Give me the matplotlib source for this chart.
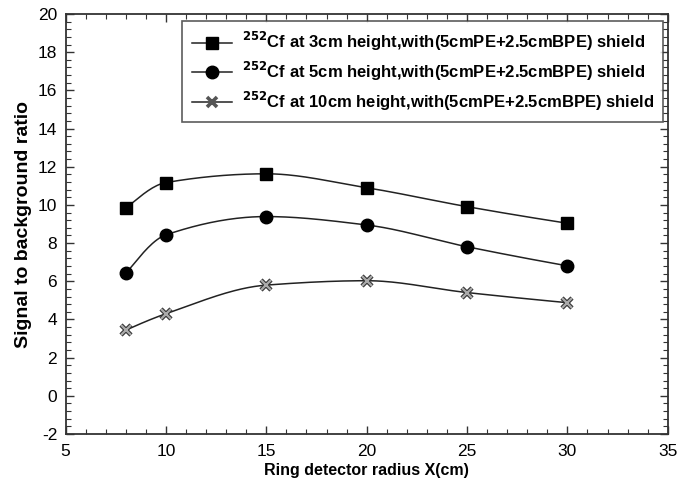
import numpy as np
import matplotlib
matplotlib.use('Agg')
import matplotlib.pyplot as plt
from matplotlib.ticker import MultipleLocator

plt.rcParams['font.family'] = ['Liberation Sans', 'DejaVu Sans']
plt.rcParams['axes.unicode_minus'] = False

# data
radius = [8, 10, 15, 20, 25, 30]
sbr_3cm = [9.83, 11.17, 11.63, 10.90, 9.91, 9.04]
sbr_5cm = [6.41, 8.43, 9.39, 8.95, 7.81, 6.81]
sbr_10cm = [3.44, 4.30, 5.80, 6.03, 5.41, 4.88]
labels = [r'$^{\mathbf{252}}$Cf at 3cm height,with(5cmPE+2.5cmBPE) shield',
          r'$^{\mathbf{252}}$Cf at 5cm height,with(5cmPE+2.5cmBPE) shield',
          r'$^{\mathbf{252}}$Cf at 10cm height,with(5cmPE+2.5cmBPE) shield']


def smooth_line(x, y, n=200):
    # monotone cubic (Fritsch-Carlson), only used to draw the smooth line
    x = np.asarray(x, float)
    y = np.asarray(y, float)
    h = np.diff(x)
    d = np.diff(y) / h
    k = len(x)
    m = np.zeros(k)
    for i in range(1, k - 1):
        if d[i - 1] * d[i] > 0:
            w1 = 2 * h[i] + h[i - 1]
            w2 = h[i] + 2 * h[i - 1]
            m[i] = (w1 + w2) / (w1 / d[i - 1] + w2 / d[i])
    m[0] = ((2 * h[0] + h[1]) * d[0] - h[0] * d[1]) / (h[0] + h[1])
    if np.sign(m[0]) != np.sign(d[0]):
        m[0] = 0
    elif np.sign(d[0]) != np.sign(d[1]) and abs(m[0]) > abs(3 * d[0]):
        m[0] = 3 * d[0]
    m[-1] = ((2 * h[-1] + h[-2]) * d[-1] - h[-1] * d[-2]) / (h[-1] + h[-2])
    if np.sign(m[-1]) != np.sign(d[-1]):
        m[-1] = 0
    xs = np.linspace(x[0], x[-1], n)
    idx = np.clip(np.searchsorted(x, xs) - 1, 0, k - 2)
    hh = h[idx]
    t = (xs - x[idx]) / hh
    h00 = 2 * t**3 - 3 * t**2 + 1
    h10 = t**3 - 2 * t**2 + t
    h01 = -2 * t**3 + 3 * t**2
    h11 = t**3 - t**2
    ys = h00 * y[idx] + h10 * hh * m[idx] + h01 * y[idx + 1] + h11 * hh * m[idx + 1]
    return xs, ys


fig = plt.figure(figsize=(6.92, 4.83), dpi=100)
ax = fig.add_axes([0.0947, 0.1014, 0.8703, 0.8696])

line_col = '#222222'
for ys in (sbr_3cm, sbr_5cm, sbr_10cm):
    sx, sy = smooth_line(radius, ys)
    ax.plot(sx, sy, color=line_col, lw=1.1, zorder=2)

ax.plot(radius, sbr_3cm, ls='none', marker='s', ms=8.5, color='black', zorder=3)
ax.plot(radius, sbr_5cm, ls='none', marker='o', ms=9, color='black', zorder=3)
ax.plot(radius, sbr_10cm, ls='none', marker='x', ms=7.5, mew=3.2, color='#333333', zorder=3)
ax.plot(radius, sbr_10cm, ls='none', marker='x', ms=6.5, mew=1.6, color='#aaaaaa', zorder=4)

# legend handles carry the line through the marker
lh = []
for mk, ms, mew, mfc, mec in (('s', 8.5, 1, 'black', 'black'),
                              ('o', 9, 1, 'black', 'black'),
                              ('x', 7, 2.6, '#aaaaaa', '#555555')):
    l, = ax.plot([], [], color=line_col, lw=1.1, marker=mk, ms=ms, mew=mew,
                 mfc=mfc, mec=mec)
    lh.append(l)

leg = ax.legend(lh, labels, loc='upper right', bbox_to_anchor=(0.9925, 0.983),
                prop={'weight': 'bold', 'size': 12}, frameon=True, fancybox=False,
                edgecolor='#333333', handlelength=2.4, handletextpad=0.6,
                borderpad=0.55, labelspacing=0.4, borderaxespad=0)
leg.get_frame().set_linewidth(1.2)

ax.set_xlim(5, 35)
ax.set_ylim(-2, 20)
ax.xaxis.set_major_locator(MultipleLocator(5))
ax.xaxis.set_minor_locator(MultipleLocator(1))
ax.yaxis.set_major_locator(MultipleLocator(2))
ax.yaxis.set_minor_locator(MultipleLocator(0.4))
ax.tick_params(which='both', direction='in', top=True, right=True, labelsize=12.5,
               color='#333333')
ax.tick_params(which='major', length=6, width=1)
ax.tick_params(which='minor', length=3.5, width=0.8)
ax.tick_params(axis='x', pad=7)
ax.tick_params(axis='y', pad=6)
for s in ax.spines.values():
    s.set_linewidth(1.3)
    s.set_color('#333333')

ax.set_xlabel('Ring detector radius X(cm)', fontsize=11.5, fontweight='bold', labelpad=3)
ax.set_ylabel('Signal to background ratio', fontsize=14, fontweight='bold', labelpad=4)

fig.savefig('out.png', dpi=100)
